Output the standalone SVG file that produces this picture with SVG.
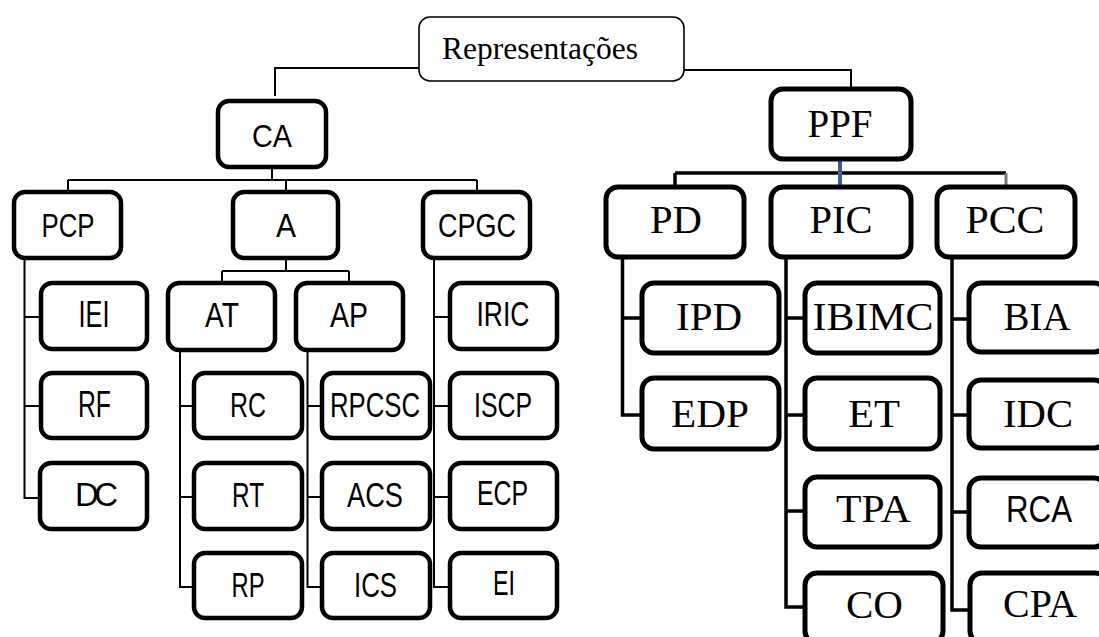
<svg xmlns="http://www.w3.org/2000/svg" width="1099" height="637" viewBox="0 0 1099 637">
<style>
.bg{fill:#fff}
.b{fill:#fff;stroke:#000;stroke-width:4.5}
.br{fill:#fff;stroke:#000;stroke-width:5}
.bt{fill:#fff;stroke:#000;stroke-width:1.6}
.c{fill:none;stroke:#000;stroke-width:2}
.cr{fill:none;stroke:#000;stroke-width:3.5}
.s{font-family:"Liberation Sans",Arial,sans-serif;text-anchor:middle;fill:#000}
.t{font-family:"Liberation Serif","Times New Roman",serif;text-anchor:middle;fill:#000}
</style>
<rect class="bg" x="0" y="0" width="1099" height="637"/>
<g id="connectors">
<path class="c" d="M419,68 H275 V96"/>
<path class="c" d="M684,70 H851 V97"/>
<path class="c" d="M272,167 V180 M68,180 H477 M68,180 V192 M286,180 V192 M477,180 V192"/>
<path class="c" d="M286,258 V271 M222,271 H349 M222,271 V283 M349,271 V283"/>
<path class="c" d="M24.5,258 V498 H41 M24.5,317 H41 M24.5,406 H41"/>
<path class="c" d="M180,350 V587 H194 M180,406 H194 M180,497 H194"/>
<path class="c" d="M307.5,350 V587 H322 M307.5,406 H322 M307.5,497 H322"/>
<path class="c" d="M434,258 V587 H450 M434,317 H450 M434,406 H450 M434,497 H450"/>
<path class="cr" d="M675,173 H1006 M675,173 V187"/>
<path fill="none" stroke="#777" stroke-width="3" d="M1006,173 V187"/>
<path fill="none" stroke="#3a5f94" stroke-width="4" d="M840,159 V186"/>
<path class="cr" d="M622.5,257 V415 H642 M622.5,318 H642"/>
<path class="cr" d="M786,257 V607 H805 M786,318 H805 M786,415 H805 M786,511 H805"/>
<path class="cr" d="M952,257 V610 H970 M952,319 H969 M952,415 H969 M952,512 H969"/>
</g>
<g id="n-representacoes"><rect class="bt" x="419" y="17" width="265" height="64" rx="11"/><text class="t" x="540" y="59" font-size="32" textLength="196" lengthAdjust="spacingAndGlyphs">Representações</text></g>
<g id="n-ca"><rect class="b" x="218" y="101" width="108" height="66" rx="11"/><text class="s" x="272" y="147" font-size="31" textLength="40" lengthAdjust="spacingAndGlyphs">CA</text></g>
<g id="n-pcp"><rect class="b" x="14" y="192" width="107" height="66" rx="11"/><text class="s" x="68" y="237" font-size="33" textLength="53" lengthAdjust="spacingAndGlyphs">PCP</text></g>
<g id="n-a"><rect class="b" x="233" y="192" width="105" height="66" rx="11"/><text class="s" x="286" y="237" font-size="33" textLength="20" lengthAdjust="spacingAndGlyphs">A</text></g>
<g id="n-cpgc"><rect class="b" x="423" y="192" width="107" height="66" rx="11"/><text class="s" x="477" y="237" font-size="33" textLength="78" lengthAdjust="spacingAndGlyphs">CPGC</text></g>
<g id="n-iei"><rect class="b" x="41" y="283" width="106" height="66" rx="11"/><text class="s" x="94" y="327" font-size="37" textLength="31" lengthAdjust="spacingAndGlyphs">IEI</text></g>
<g id="n-rf"><rect class="b" x="41" y="373" width="106" height="65" rx="11"/><text class="s" x="94.5" y="417" font-size="36" textLength="33" lengthAdjust="spacingAndGlyphs">RF</text></g>
<g id="n-dc"><rect class="b" x="40" y="463" width="107" height="66" rx="11"/><text class="s" x="96.5" y="506" font-size="33" textLength="43" lengthAdjust="spacing">DC</text></g>
<g id="n-at"><rect class="b" x="168" y="283" width="107" height="67" rx="11"/><text class="s" x="222" y="327" font-size="35" textLength="34" lengthAdjust="spacingAndGlyphs">AT</text></g>
<g id="n-ap"><rect class="b" x="296" y="283" width="107" height="67" rx="11"/><text class="s" x="349" y="327" font-size="35" textLength="38" lengthAdjust="spacingAndGlyphs">AP</text></g>
<g id="n-rc"><rect class="b" x="194" y="373" width="108" height="65" rx="11"/><text class="s" x="248" y="417" font-size="35" textLength="36" lengthAdjust="spacingAndGlyphs">RC</text></g>
<g id="n-rt"><rect class="b" x="194" y="463" width="108" height="66" rx="11"/><text class="s" x="248" y="507" font-size="35" textLength="32" lengthAdjust="spacingAndGlyphs">RT</text></g>
<g id="n-rp"><rect class="b" x="194" y="553" width="108" height="65" rx="11"/><text class="s" x="248" y="597" font-size="35" textLength="33" lengthAdjust="spacingAndGlyphs">RP</text></g>
<g id="n-rpcsc"><rect class="b" x="322" y="373" width="108" height="65" rx="11"/><text class="s" x="375" y="417" font-size="35" textLength="90" lengthAdjust="spacingAndGlyphs">RPCSC</text></g>
<g id="n-acs"><rect class="b" x="322" y="463" width="108" height="66" rx="11"/><text class="s" x="375" y="507" font-size="35" textLength="56" lengthAdjust="spacingAndGlyphs">ACS</text></g>
<g id="n-ics"><rect class="b" x="322" y="553" width="108" height="65" rx="11"/><text class="s" x="375.5" y="597" font-size="35" textLength="43" lengthAdjust="spacingAndGlyphs">ICS</text></g>
<g id="n-iric"><rect class="b" x="450" y="283" width="107" height="66" rx="11"/><text class="s" x="503" y="326" font-size="35" textLength="53" lengthAdjust="spacingAndGlyphs">IRIC</text></g>
<g id="n-iscp"><rect class="b" x="450" y="373" width="107" height="65" rx="11"/><text class="s" x="503" y="417" font-size="35" textLength="58" lengthAdjust="spacingAndGlyphs">ISCP</text></g>
<g id="n-ecp"><rect class="b" x="450" y="463" width="107" height="66" rx="11"/><text class="s" x="502.5" y="505" font-size="35" textLength="51" lengthAdjust="spacingAndGlyphs">ECP</text></g>
<g id="n-ei"><rect class="b" x="450" y="553" width="107" height="65" rx="11"/><text class="s" x="504" y="595" font-size="35" textLength="22" lengthAdjust="spacingAndGlyphs">EI</text></g>
<g id="n-ppf"><rect class="br" x="771" y="89" width="140" height="70" rx="12"/><text class="t" x="840" y="137" font-size="41" textLength="65" lengthAdjust="spacingAndGlyphs">PPF</text></g>
<g id="n-pd"><rect class="br" x="606" y="187" width="138" height="70" rx="12"/><text class="t" x="676" y="233" font-size="41" textLength="52" lengthAdjust="spacingAndGlyphs">PD</text></g>
<g id="n-pic"><rect class="br" x="771" y="187" width="140" height="70" rx="12"/><text class="t" x="841" y="233" font-size="41" textLength="63" lengthAdjust="spacingAndGlyphs">PIC</text></g>
<g id="n-pcc"><rect class="br" x="937" y="187" width="138" height="70" rx="12"/><text class="t" x="1005" y="233" font-size="41" textLength="79" lengthAdjust="spacingAndGlyphs">PCC</text></g>
<g id="n-ipd"><rect class="br" x="642" y="283" width="137" height="70" rx="12"/><text class="t" x="709" y="330" font-size="41" textLength="66" lengthAdjust="spacingAndGlyphs">IPD</text></g>
<g id="n-edp"><rect class="br" x="642" y="378" width="137" height="71" rx="12"/><text class="t" x="710" y="427" font-size="41" textLength="78" lengthAdjust="spacingAndGlyphs">EDP</text></g>
<g id="n-ibimc"><rect class="br" x="805" y="283" width="135" height="70" rx="12"/><text class="t" x="873" y="330" font-size="41" textLength="121" lengthAdjust="spacingAndGlyphs">IBIMC</text></g>
<g id="n-et"><rect class="br" x="805" y="378" width="135" height="71" rx="12"/><text class="t" x="874" y="427" font-size="41" textLength="52" lengthAdjust="spacingAndGlyphs">ET</text></g>
<g id="n-tpa"><rect class="br" x="805" y="477" width="135" height="70" rx="12"/><text class="t" x="873.5" y="522" font-size="41" textLength="75" lengthAdjust="spacingAndGlyphs">TPA</text></g>
<g id="n-co"><rect class="br" x="805" y="573" width="138" height="70" rx="12"/><text class="t" x="874.5" y="618" font-size="41" textLength="57" lengthAdjust="spacingAndGlyphs">CO</text></g>
<g id="n-bia"><rect class="br" x="969" y="283" width="137" height="69" rx="12"/><text class="t" x="1037" y="330" font-size="41" textLength="67" lengthAdjust="spacingAndGlyphs">BIA</text></g>
<g id="n-idc"><rect class="br" x="969" y="380" width="137" height="68" rx="12"/><text class="t" x="1038" y="427" font-size="41" textLength="70" lengthAdjust="spacingAndGlyphs">IDC</text></g>
<g id="n-rca"><rect class="br" x="969" y="478" width="137" height="69" rx="12"/><text class="s" x="1039" y="522" font-size="37" textLength="66" lengthAdjust="spacingAndGlyphs">RCA</text></g>
<g id="n-cpa"><rect class="br" x="970" y="573" width="137" height="70" rx="12"/><text class="t" x="1040" y="617" font-size="41" textLength="74" lengthAdjust="spacingAndGlyphs">CPA</text></g>
</svg>
